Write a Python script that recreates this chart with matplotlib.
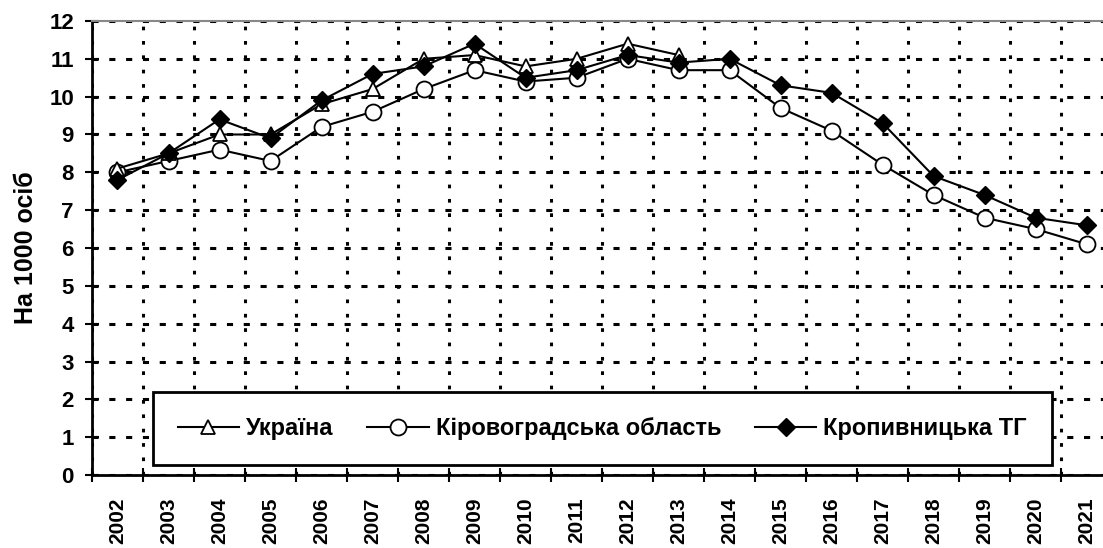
import matplotlib
matplotlib.use('Agg')
import matplotlib.pyplot as plt
from matplotlib.ticker import FixedLocator

years = [str(y) for y in range(2002, 2022)]

# Україна - only up to 2013 on the chart
ukraine = [8.1, 8.5, 9.0, 9.0, 9.8, 10.2, 11.0, 11.1, 10.8, 11.0, 11.4, 11.1]
kirovohrad = [8.0, 8.3, 8.6, 8.3, 9.2, 9.6, 10.2, 10.7, 10.4, 10.5, 11.0, 10.7,
              10.7, 9.7, 9.1, 8.2, 7.4, 6.8, 6.5, 6.1]
kropyvnytska = [7.8, 8.5, 9.4, 8.9, 9.9, 10.6, 10.8, 11.4, 10.5, 10.7, 11.1, 10.9,
                11.0, 10.3, 10.1, 9.3, 7.9, 7.4, 6.8, 6.6]

labels = ['Україна', 'Кіровоградська область', 'Кропивницька ТГ']

plt.rcParams['font.family'] = ['Liberation Sans', 'DejaVu Sans']
plt.rcParams['font.weight'] = 'bold'

fig = plt.figure(figsize=(11.03, 5.48), dpi=100)
ax = fig.add_axes([0.0834, 0.1332, 0.9166, 0.8285])

x_all = list(range(len(years)))
ax.plot(x_all[:len(ukraine)], ukraine, color='black', lw=1.5, marker='^',
        ms=10, mfc='white', mec='black', mew=1.3, label=labels[0], zorder=4)
ax.plot(x_all, kirovohrad, color='black', lw=1.5, marker='o',
        ms=11.5, mfc='white', mec='black', mew=1.3, label=labels[1], zorder=3)
ax.plot(x_all, kropyvnytska, color='black', lw=1.5, marker='D',
        ms=9, mfc='black', mec='black', label=labels[2], zorder=5)

ax.set_xlim(-0.5, 19.32)
ax.set_ylim(0, 12)
ax.set_yticks(range(0, 13))
ax.set_xticks(x_all)
ax.set_xticklabels(years, rotation=90, fontsize=15, fontweight='bold')
ax.xaxis.set_minor_locator(FixedLocator([i + 0.5 for i in range(-1, 20)]))
ax.tick_params(axis='x', which='major', length=0, pad=16)
ax.tick_params(axis='x', which='minor', direction='inout', length=10, width=1.5)
ax.tick_params(axis='y', which='major', direction='inout', length=10, width=1.5,
               labelsize=16, pad=8)
for t in ax.get_yticklabels():
    t.set_fontweight('bold')

ax.grid(True, axis='y', which='major', color='black', lw=2.2,
        linestyle=(0, (2, 3.5)))
ax.grid(True, axis='x', which='minor', color='black', lw=2.2,
        linestyle=(0, (1.2, 3.5)))
ax.set_axisbelow(True)

ax.spines['right'].set_visible(False)
ax.spines['top'].set_color('#888888')
ax.spines['top'].set_linewidth(1.5)
ax.spines['left'].set_linewidth(2)
ax.spines['bottom'].set_linewidth(2)

ax.set_ylabel('На 1000 осіб', fontsize=18, fontweight='bold', labelpad=8)

leg = ax.legend(loc='lower left', bbox_to_anchor=(0.0603, 0.022, 0.889, 0.165),
                mode='expand', ncol=3, fancybox=False, framealpha=1,
                edgecolor='black', handlelength=2.6, handletextpad=0.3,
                borderaxespad=0, borderpad=1.05,
                prop={'size': 17, 'weight': 'bold'})
leg.get_frame().set_linewidth(2)

fig.savefig('out.png', dpi=100)
